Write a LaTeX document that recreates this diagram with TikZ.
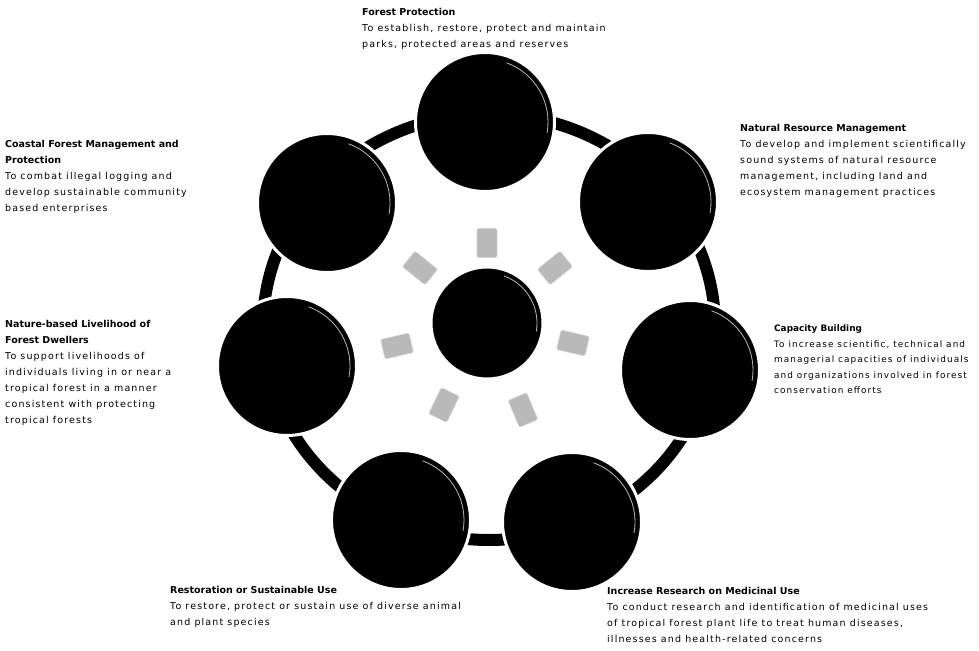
\documentclass[tikz,border=0pt]{standalone}
\usepackage{fontspec}
\setmainfont{DejaVu Sans}
\newfontfamily\bodyfont[LetterSpace=12]{DejaVu Sans}
\newfontfamily\titlefont{DejaVu Sans}
\newcommand\blurbtitle[1]{{\titlefont\bfseries #1}}

\begin{document}
\begin{tikzpicture}[x=1pt,y=-1pt,
  disc/.style={circle, fill=black, draw=white, line width=3pt, inner sep=0pt, minimum size=139pt},
  hub/.style={circle, fill=black, draw=white, line width=3pt, inner sep=0pt, minimum size=112pt},
  ringline/.style={draw=black, line width=12pt},
  rimlight/.style={draw=gray!55, line width=0.8pt},
  ray/.style={fill=gray!55, draw=gray!35, line width=0.6pt, rounded corners=1.5pt,
              inner sep=0pt, minimum width=29pt, minimum height=20pt},
  blurb/.style={anchor=north west, inner sep=0pt, align=left,
                font={\bodyfont\fontsize{9.5}{16}\selectfont}},
]
\useasboundingbox (0,0) rectangle (979,650);

% ring through the seven outer discs
\coordinate (ringmid) at (489,327);
\draw[ringline] (ringmid) ellipse [x radius=226, y radius=213];

% central hub and outer discs
\node[hub]  (hub) at (487,323) {};
\node[disc] (dtop) at (485,122) {};
\node[disc] (dur)  at (648,202) {};
\node[disc] (dr)   at (690,370) {};
\node[disc] (dbr)  at (572,522) {};
\node[disc] (dbl)  at (401,520) {};
\node[disc] (dl)   at (287,366) {};
\node[disc] (dul)  at (327,203) {};

% faint highlight on the right rim of each disc
\foreach \d in {dtop,dur,dr,dbr,dbl,dl,dul}{
  \draw[rimlight] (\d.center) ++(-70:63) arc[start angle=-70, end angle=10, radius=63];
}
\draw[rimlight] (hub.center) ++(-70:50) arc[start angle=-70, end angle=10, radius=50];

% short grey rays around the hub, pointing at each disc
\node[ray, rotate=90]   (rtop) at (487,243) {};
\node[ray, rotate=39]   (rur)  at (555,268) {};
\node[ray, rotate=-13]  (rr)   at (573,343) {};
\node[ray, rotate=-67]  (rbr)  at (523,410) {};
\node[ray, rotate=-116] (rbl)  at (444,405) {};
\node[ray, rotate=-167] (rl)   at (397,346) {};
\node[ray, rotate=141]  (rul)  at (420,268) {};

% descriptions
\node[blurb] (ttop) at (362,8) {\blurbtitle{Forest Protection}\\
  To establish, restore, protect and maintain\\
  parks, protected areas and reserves};

\node[blurb] (tur) at (740,124) {\blurbtitle{Natural Resource Management}\\
  To develop and implement scientifically\\
  sound systems of natural resource\\
  management, including land and\\
  ecosystem management practices};

\node[blurb] (tul) at (5,140) {\blurbtitle{Coastal Forest Management and}\\
  \blurbtitle{Protection}\\
  To combat illegal logging and\\
  develop sustainable community\\
  based enterprises};

\node[blurb] (tl) at (5,320) {\blurbtitle{Nature-based Livelihood of}\\
  \blurbtitle{Forest Dwellers}\\
  To support livelihoods of\\
  individuals living in or near a\\
  tropical forest in a manner\\
  consistent with protecting\\
  tropical forests};

\node[blurb, font={\bodyfont\fontsize{8.9}{15.5}\selectfont}] (tr) at (774,325)
  {\blurbtitle{Capacity Building}\\
  To increase scientific, technical and\\
  managerial capacities of individuals\\
  and organizations involved in forest\\
  conservation efforts};

\node[blurb] (tbl) at (170,586) {\blurbtitle{Restoration or Sustainable Use}\\
  To restore, protect or sustain use of diverse animal\\
  and plant species};

\node[blurb] (tbr) at (607,587) {\blurbtitle{Increase Research on Medicinal Use}\\
  To conduct research and identification of medicinal uses\\
  of tropical forest plant life to treat human diseases,\\
  illnesses and health-related concerns};
\end{tikzpicture}
\end{document}
